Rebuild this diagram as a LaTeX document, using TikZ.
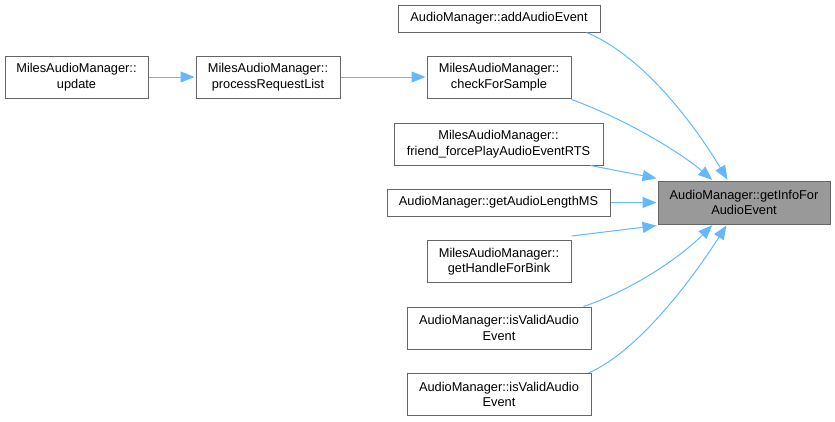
\documentclass[tikz,border=0pt]{standalone}
\usepackage{fontspec}
\setmainfont{Liberation Sans}
\usetikzlibrary{arrows.meta}
\definecolor{edgeblue}{HTML}{63B8FF}
\definecolor{boxgray}{HTML}{666666}
\definecolor{hilite}{HTML}{999999}
\tikzset{
  fn/.style={draw=boxgray, line width=1pt, fill=white, inner sep=0pt, align=center,
    font=\fontsize{12.8}{15.6}\selectfont},
  cur/.style={fn, fill=hilite},
  call/.style={draw=edgeblue, line width=1pt, shorten >=1pt, -{Triangle[length=14pt,width=11pt]}},
}
\begin{document}
\begin{tikzpicture}[x=1pt,y=-1pt]
\useasboundingbox (0,0) rectangle (835,421);
\node[fn, minimum width=143pt, minimum height=42pt] (upd) at (76.5,77) {MilesAudioManager::\\update};
\node[fn, minimum width=144pt, minimum height=42pt] (prl) at (268,77) {MilesAudioManager::\\processRequestList};
\node[fn, minimum width=202pt, minimum height=27pt] (add) at (499,18.5) {AudioManager::addAudioEvent};
\node[fn, minimum width=144pt, minimum height=42pt] (cfs) at (499,77) {MilesAudioManager::\\checkForSample};
\node[fn, minimum width=209pt, minimum height=42pt] (frd) at (498.5,144) {MilesAudioManager::\\friend\_forcePlayAudioEventRTS};
\node[fn, minimum width=223pt, minimum height=27pt] (gal) at (498.5,202.5) {AudioManager::getAudioLengthMS};
\node[fn, minimum width=144pt, minimum height=42pt] (ghb) at (499,261.5) {MilesAudioManager::\\getHandleForBink};
\node[fn, minimum width=184pt, minimum height=42pt] (iva) at (499,328) {AudioManager::isValidAudio\\Event};
\node[fn, minimum width=184pt, minimum height=42pt] (ivb) at (499,394.5) {AudioManager::isValidAudio\\Event};
\node[cur, minimum width=172pt, minimum height=43pt] (gif) at (744,202.5) {AudioManager::getInfoFor\\AudioEvent};

\draw[call] (upd.east) -- (prl.west);
\draw[call] (prl.east) -- (cfs.west);
\draw[call] ([xshift=-14pt]add.south east) .. controls +(60,25) and +(-30,-50) .. ([xshift=-16pt]gif.north);
\draw[call] ([yshift=-1pt]cfs.south east) .. controls +(50,18) and +(-35,-30) .. ([xshift=-31pt]gif.north);
\draw[call] ([xshift=-13pt]frd.south east) -- ([yshift=2pt]gif.north west);
\draw[call] (gal.east) -- (gif.west);
\draw[call] ([yshift=4pt]ghb.north east) -- ([yshift=-1pt]gif.south west);
\draw[call] ([xshift=-8pt]iva.north east) .. controls +(45,-15) and +(-35,35) .. ([xshift=-31pt]gif.south);
\draw[call] ([xshift=-3pt]ivb.north east) .. controls +(50,-22) and +(-35,55) .. ([xshift=-17pt]gif.south);
\end{tikzpicture}
\end{document}
